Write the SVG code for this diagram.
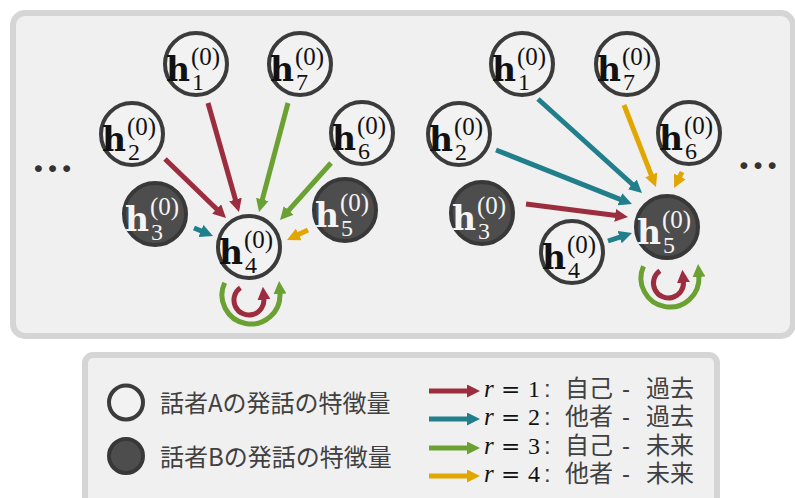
<svg xmlns="http://www.w3.org/2000/svg" width="795" height="498" viewBox="0 0 795 498">
<style>
.panel{fill:#f0f0f0;stroke:#d5d5d5;stroke-width:6}
.nA circle{fill:#f2f2f2;stroke:#3b3b3b;stroke-width:4}
.nB circle{fill:#4d4d4d;stroke:#383838;stroke-width:4}
.nA text{fill:#111}
.nB text{fill:#f4f4f4}
.h{font-family:"DejaVu Serif",serif;font-weight:bold;font-size:33px}
.sup{font-family:"Liberation Serif",serif;font-size:25px}
.sub{font-family:"Liberation Serif",serif;font-size:24px}
.e{fill:none;stroke-width:5}
.c1{stroke:#9b2d3e}.c2{stroke:#217f8c}.c3{stroke:#6aa132}.c4{stroke:#e2a600}
.c1.e{marker-end:url(#m1)}.c2.e{marker-end:url(#m2)}.c3.e{marker-end:url(#m3)}.c4.e{marker-end:url(#m4)}
.dots{font-family:"Liberation Serif",serif;font-weight:bold;font-size:42px;fill:#333;text-anchor:middle}
.lg{font-family:"Noto Sans CJK JP",sans-serif;font-size:24px;fill:#404040}
.ls{font-family:"Liberation Sans",sans-serif;font-size:24px;fill:#404040}
.mi{font-family:"Liberation Serif",serif;font-style:italic;font-size:25px;fill:#111}
.mr{font-family:"Liberation Serif",serif;font-size:24px;fill:#111}
.eq{font-family:"DejaVu Serif",serif;font-size:23px;fill:#111}
</style>
<defs>
<marker id="m1" viewBox="0 0 13 13" refX="1" refY="6.5" markerWidth="13" markerHeight="13" markerUnits="userSpaceOnUse" orient="auto"><path d="M0,0 L13,6.5 L0,13 z" fill="#9b2d3e"/></marker>
<marker id="m2" viewBox="0 0 13 13" refX="1" refY="6.5" markerWidth="13" markerHeight="13" markerUnits="userSpaceOnUse" orient="auto"><path d="M0,0 L13,6.5 L0,13 z" fill="#217f8c"/></marker>
<marker id="m3" viewBox="0 0 13 13" refX="1" refY="6.5" markerWidth="13" markerHeight="13" markerUnits="userSpaceOnUse" orient="auto"><path d="M0,0 L13,6.5 L0,13 z" fill="#6aa132"/></marker>
<marker id="m4" viewBox="0 0 13 13" refX="1" refY="6.5" markerWidth="13" markerHeight="13" markerUnits="userSpaceOnUse" orient="auto"><path d="M0,0 L13,6.5 L0,13 z" fill="#e2a600"/></marker>
</defs>

<rect class="panel" x="13" y="13" width="780" height="323" rx="12"/>
<rect class="panel" x="85" y="355" width="632" height="160" rx="8"/>

<text class="dots" x="52.5" y="172">…</text>
<text class="dots" x="758" y="169">…</text>

<g id="connectors">
<path class="e c1" d="M208,103 L235.7,200.5"/>
<path class="e c1" d="M165,159 L217.4,209.7"/>
<path class="e c3" d="M288,103 L262.1,200.4"/>
<path class="e c3" d="M331,163 L288,211.1"/>
<path class="e c2" d="M194,228 L201.9,231.3"/>
<path class="e c4" d="M308,230 L297.8,234.8"/>
<path class="e c1" d="M240.4,287.7 A15,15 0 1 0 263.9,298.7"/>
<path class="e c3" d="M224.7,282.7 A29,29 0 1 0 279.9,293"/>

<path class="e c2" d="M538,99 L633.1,185"/>
<path class="e c2" d="M496,150 L620.8,199.6"/>
<path class="e c4" d="M624,105 L651.6,175.8"/>
<path class="e c4" d="M682,172 L679.4,177.3"/>
<path class="e c1" d="M526,204 L616.1,215.5"/>
<path class="e c2" d="M608,241 L620.6,236.8"/>
<path class="e c1" d="M659.9,270.7 A15,15 0 1 0 683.4,281.7"/>
<path class="e c3" d="M643.5,266.2 A29,29 0 1 0 698.9,276"/>
</g>

<g id="L1" class="nA" transform="translate(196,64)"><circle r="31"/><text><tspan class="h" x="-30" y="17">h</tspan><tspan class="sup" x="-5" y="1">(0)</tspan><tspan class="sub" x="-4" y="26">1</tspan></text></g>
<g id="L7" class="nA" transform="translate(300,64)"><circle r="31"/><text><tspan class="h" x="-30" y="17">h</tspan><tspan class="sup" x="-5" y="1">(0)</tspan><tspan class="sub" x="-4" y="26">7</tspan></text></g>
<g id="L2" class="nA" transform="translate(132,134)"><circle r="31"/><text><tspan class="h" x="-30" y="17">h</tspan><tspan class="sup" x="-5" y="1">(0)</tspan><tspan class="sub" x="-4" y="26">2</tspan></text></g>
<g id="L6" class="nA" transform="translate(362,133)"><circle r="31"/><text><tspan class="h" x="-30" y="17">h</tspan><tspan class="sup" x="-5" y="1">(0)</tspan><tspan class="sub" x="-4" y="26">6</tspan></text></g>
<g id="L3" class="nB" transform="translate(155,214)"><circle r="31"/><text><tspan class="h" x="-30" y="17">h</tspan><tspan class="sup" x="-5" y="1">(0)</tspan><tspan class="sub" x="-4" y="26">3</tspan></text></g>
<g id="L5" class="nB" transform="translate(345,210)"><circle r="31"/><text><tspan class="h" x="-30" y="17">h</tspan><tspan class="sup" x="-5" y="1">(0)</tspan><tspan class="sub" x="-4" y="26">5</tspan></text></g>
<g id="L4" class="nA" transform="translate(249,247)"><circle r="31"/><text><tspan class="h" x="-30" y="17">h</tspan><tspan class="sup" x="-5" y="1">(0)</tspan><tspan class="sub" x="-4" y="26">4</tspan></text></g>

<g id="R1" class="nA" transform="translate(522,64)"><circle r="31"/><text><tspan class="h" x="-30" y="17">h</tspan><tspan class="sup" x="-5" y="1">(0)</tspan><tspan class="sub" x="-4" y="26">1</tspan></text></g>
<g id="R7" class="nA" transform="translate(627,64)"><circle r="31"/><text><tspan class="h" x="-30" y="17">h</tspan><tspan class="sup" x="-5" y="1">(0)</tspan><tspan class="sub" x="-4" y="26">7</tspan></text></g>
<g id="R2" class="nA" transform="translate(459,134)"><circle r="31"/><text><tspan class="h" x="-30" y="17">h</tspan><tspan class="sup" x="-5" y="1">(0)</tspan><tspan class="sub" x="-4" y="26">2</tspan></text></g>
<g id="R6" class="nA" transform="translate(689,133)"><circle r="31"/><text><tspan class="h" x="-30" y="17">h</tspan><tspan class="sup" x="-5" y="1">(0)</tspan><tspan class="sub" x="-4" y="26">6</tspan></text></g>
<g id="R3" class="nB" transform="translate(482,213)"><circle r="31"/><text><tspan class="h" x="-30" y="17">h</tspan><tspan class="sup" x="-5" y="1">(0)</tspan><tspan class="sub" x="-4" y="26">3</tspan></text></g>
<g id="R4" class="nA" transform="translate(572,252)"><circle r="31"/><text><tspan class="h" x="-30" y="17">h</tspan><tspan class="sup" x="-5" y="1">(0)</tspan><tspan class="sub" x="-4" y="26">4</tspan></text></g>
<g id="R5" class="nB" transform="translate(667,227)"><circle r="31"/><text><tspan class="h" x="-30" y="17">h</tspan><tspan class="sup" x="-5" y="1">(0)</tspan><tspan class="sub" x="-4" y="26">5</tspan></text></g>

<g id="legend">
<g class="nA"><circle cx="126" cy="402.5" r="17"/></g>
<g class="nB"><circle cx="126" cy="456" r="17"/></g>
<text class="lg" x="160" y="412">話者Aの発話の特徴量</text>
<text class="lg" x="160" y="465.5">話者Bの発話の特徴量</text>
<path class="e c1" d="M429,391 H468"/>
<path class="e c2" d="M429,419 H468"/>
<path class="e c3" d="M429,448 H468"/>
<path class="e c4" d="M429,476 H468"/>
<text y="397"><tspan class="mi" x="484">r</tspan><tspan class="eq" x="501">=</tspan><tspan class="mr" x="528">1</tspan><tspan class="ls" x="544">:</tspan></text>
<text class="lg" x="565" y="397">自己</text><text class="ls" x="622" y="397">-</text><text class="lg" x="646" y="397">過去</text>
<text y="425"><tspan class="mi" x="484">r</tspan><tspan class="eq" x="501">=</tspan><tspan class="mr" x="528">2</tspan><tspan class="ls" x="544">:</tspan></text>
<text class="lg" x="565" y="425">他者</text><text class="ls" x="622" y="425">-</text><text class="lg" x="646" y="425">過去</text>
<text y="454"><tspan class="mi" x="484">r</tspan><tspan class="eq" x="501">=</tspan><tspan class="mr" x="528">3</tspan><tspan class="ls" x="544">:</tspan></text>
<text class="lg" x="565" y="454">自己</text><text class="ls" x="622" y="454">-</text><text class="lg" x="646" y="454">未来</text>
<text y="482"><tspan class="mi" x="484">r</tspan><tspan class="eq" x="501">=</tspan><tspan class="mr" x="528">4</tspan><tspan class="ls" x="544">:</tspan></text>
<text class="lg" x="565" y="482">他者</text><text class="ls" x="622" y="482">-</text><text class="lg" x="646" y="482">未来</text>
</g>
</svg>
